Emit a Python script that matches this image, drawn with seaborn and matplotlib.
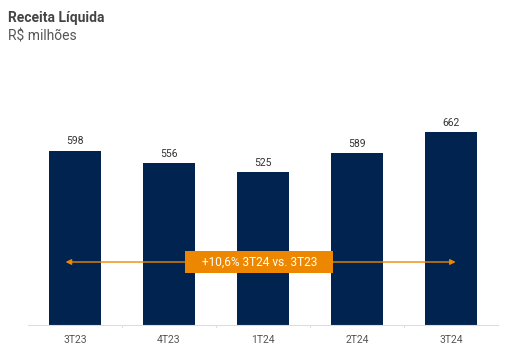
import matplotlib
matplotlib.use("Agg")
import matplotlib.pyplot as plt
from matplotlib.patches import Rectangle
import seaborn as sns
import pandas as pd

categories = ["3T23", "4T23", "1T24", "2T24", "3T24"]
values = [598, 556, 525, 589, 662]
annotation = "+10,6% 3T24 vs. 3T23"
title = "Receita Líquida"
subtitle = "R$ milhões"

sns.set_theme(style="white")
plt.rcParams["font.family"] = ["Roboto", "DejaVu Sans"]

df = pd.DataFrame({"cat": categories, "val": values})

fig = plt.figure(figsize=(5.26, 3.58), dpi=100)
ax = fig.add_axes([28/526, (358-325)/358, 470/526, 245/358])
sns.barplot(data=df, x="cat", y="val", color="#01234F", width=0.55,
            saturation=1, ax=ax, edgecolor="none")
ax.set_xlim(-0.5, 4.5)
ax.set_ylim(0, 840)
ax.set_xlabel("")
ax.set_ylabel("")
ax.set_yticks([])
for s in ["top", "right", "left"]:
    ax.spines[s].set_visible(False)
ax.spines["bottom"].set_color("#dddddd")
ax.spines["bottom"].set_linewidth(0.8)
ax.tick_params(axis="x", length=0, labelsize=7.5, labelcolor="#555555", pad=7)
# boundary ticks
for b in [0.5, 1.5, 2.5, 3.5]:
    ax.plot([b, b], [0, -8], color="#dddddd", lw=0.8, clip_on=False)

for i, v in enumerate(values):
    ax.text(i, v + 14, f"{v}", ha="center", va="bottom", fontsize=7.5, color="#333333")

orange = "#EE8700"
arrow_y = 216
ax.annotate("", xy=(-0.1, arrow_y), xytext=(1.5, arrow_y),
            arrowprops=dict(arrowstyle="-|>", color=orange, lw=1.0,
                            mutation_scale=8, shrinkA=0, shrinkB=0))
ax.annotate("", xy=(4.05, arrow_y), xytext=(2.5, arrow_y),
            arrowprops=dict(arrowstyle="-|>", color=orange, lw=1.0,
                            mutation_scale=8, shrinkA=0, shrinkB=0))
box_cx, box_w, box_h = 1.96, 1.574, 75.5
ax.add_patch(Rectangle((box_cx - box_w/2, arrow_y - box_h/2), box_w, box_h,
                       fc=orange, ec="none", zorder=5))
ax.text(box_cx, arrow_y, annotation, ha="center", va="center", fontsize=8.6,
        color="white", zorder=6)

fig.text(8/526, 1 - 18/358, title, fontsize=10, fontweight="bold",
         color="#444444", va="center", ha="left")
fig.text(8/526, 1 - 37/358, subtitle, fontsize=10, color="#555555",
         va="center", ha="left")

fig.savefig("out.png", dpi=100)
